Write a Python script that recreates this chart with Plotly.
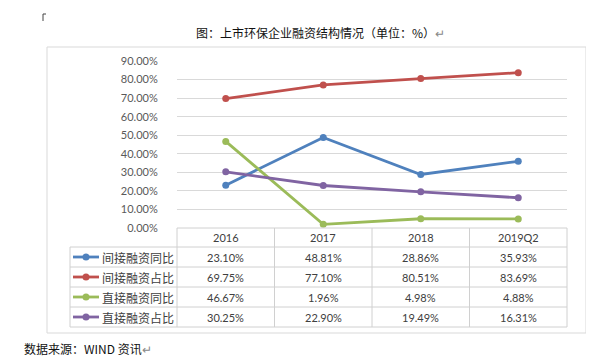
import plotly.graph_objects as go

categories = ["2016", "2017", "2018", "2019Q2"]
series_names = ["间接融资同比", "间接融资占比", "直接融资同比", "直接融资占比"]
indirect_yoy = [23.10, 48.81, 28.86, 35.93]
indirect_share = [69.75, 77.10, 80.51, 83.69]
direct_yoy = [46.67, 1.96, 4.98, 4.88]
direct_share = [30.25, 22.90, 19.49, 16.31]
series_values = [indirect_yoy, indirect_share, direct_yoy, direct_share]
colors = ["#4F81BD", "#C0504D", "#9BBB59", "#8064A2"]
y_ticks = [0, 10, 20, 30, 40, 50, 60, 70, 80, 90]
y_tick_labels = [f"{v:.2f}%" for v in y_ticks]

W, H = 594, 357
L, R, T, B = 169, 559, 53, 220


def px(x):
    return (x - L) / (R - L)


def py(y):
    return (B - y) / (B - T)


fig = go.Figure()
for name, vals, c in zip(series_names, series_values, colors):
    fig.add_trace(go.Scatter(
        x=categories, y=vals, name=name, mode="lines+markers",
        line=dict(color=c, width=2.8), marker=dict(color=c, size=7),
        cliponaxis=False, showlegend=False,
    ))

shapes = []
grid_c = "#D9D9D9"
# chart border
shapes.append(dict(type="rect", xref="paper", yref="paper", x0=px(39), x1=px(578),
                   y0=py(325), y1=py(39), line=dict(color=grid_c, width=1)))
# corner mark
shapes.append(dict(type="line", xref="paper", yref="paper", x0=px(35), x1=px(35),
                   y0=py(6), y1=py(13), line=dict(color="#444", width=1)))
shapes.append(dict(type="line", xref="paper", yref="paper", x0=px(35), x1=px(38),
                   y0=py(6), y1=py(6), line=dict(color="#444", width=1)))

# table lines
row_edges = [239, 259, 279, 299, 319]
table_c = "#D0D0D0"
shapes.append(dict(type="line", xref="paper", yref="paper", x0=px(L), x1=px(R),
                   y0=py(220), y1=py(220), line=dict(color=table_c, width=1)))
for yy in row_edges:
    shapes.append(dict(type="line", xref="paper", yref="paper", x0=px(62), x1=px(R),
                       y0=py(yy), y1=py(yy), line=dict(color=table_c, width=1)))
shapes.append(dict(type="line", xref="paper", yref="paper", x0=px(62), x1=px(62),
                   y0=py(239), y1=py(319), line=dict(color=table_c, width=1)))
col_w = (R - L) / len(categories)
for i in range(len(categories) + 1):
    xx = L + i * col_w
    shapes.append(dict(type="line", xref="paper", yref="paper", x0=px(xx), x1=px(xx),
                       y0=py(220), y1=py(319), line=dict(color=table_c, width=1)))

annotations = []
row_centers = [249, 269, 289, 309]
font_num = dict(family="Lato, Open Sans, sans-serif", size=11, color="#404040")
font_cjk = dict(family="Noto Sans CJK SC", size=12, color="#404040")
for i, c in enumerate(categories):
    annotations.append(dict(x=i, xref="x", y=py(229.5), yref="paper", text=c,
                            showarrow=False, font=font_num, xanchor="center", yanchor="middle"))
for r, (name, vals, col) in enumerate(zip(series_names, series_values, colors)):
    yc = row_centers[r]
    shapes.append(dict(type="line", xref="paper", yref="paper", x0=px(65), x1=px(91),
                       y0=py(yc), y1=py(yc), line=dict(color=col, width=2.8)))
    shapes.append(dict(type="circle", xref="paper", yref="paper", x0=px(74.5), x1=px(81.5),
                       y0=py(yc + 3.5), y1=py(yc - 3.5), fillcolor=col, line=dict(color=col, width=0)))
    annotations.append(dict(x=px(92), xref="paper", y=py(yc), yref="paper", text=name,
                            showarrow=False, font=font_cjk, xanchor="left", yanchor="middle"))
    for i, v in enumerate(vals):
        annotations.append(dict(x=i, xref="x", y=py(yc), yref="paper", text=f"{v:.2f}%",
                                showarrow=False, font=font_num, xanchor="center", yanchor="middle"))

# title and notes
annotations.append(dict(x=px(186), xref="paper", y=py(24), yref="paper",
                        text="图：上市环保企业融资结构情况（单位：%）<span style='color:#888'>↵</span>",
                        showarrow=False, xanchor="left", yanchor="middle",
                        font=dict(family="Noto Sans CJK SC", size=12, color="#111")))
annotations.append(dict(x=px(14), xref="paper", y=py(340), yref="paper",
                        text="数据来源：WIND 资讯<span style='color:#888'>↵</span>",
                        showarrow=False, xanchor="left", yanchor="middle",
                        font=dict(family="Noto Sans CJK SC", size=12, color="#111")))
annotations.append(dict(x=px(582), xref="paper", y=py(323), yref="paper", text="↵",
                        showarrow=False, xanchor="center", yanchor="middle",
                        font=dict(family="DejaVu Sans", size=8, color="#888")))

fig.update_layout(
    width=W, height=H,
    margin=dict(l=L, r=W - R, t=T, b=H - B, pad=0),
    paper_bgcolor="white", plot_bgcolor="white",
    shapes=shapes, annotations=annotations,
    xaxis=dict(type="category", range=[-0.5, len(categories) - 0.5], showticklabels=False,
               showgrid=False, zeroline=False, showline=False, fixedrange=True),
    yaxis=dict(range=[0, 90], tickmode="array", tickvals=y_ticks, ticktext=y_tick_labels,
               showgrid=True, gridcolor=grid_c, gridwidth=1, zeroline=False, showline=False,
               ticks="outside", ticklen=16, tickcolor="rgba(0,0,0,0)",
               tickfont=dict(family="Lato, Open Sans, sans-serif", size=11, color="#595959")),
)

fig.write_html("out.html")
